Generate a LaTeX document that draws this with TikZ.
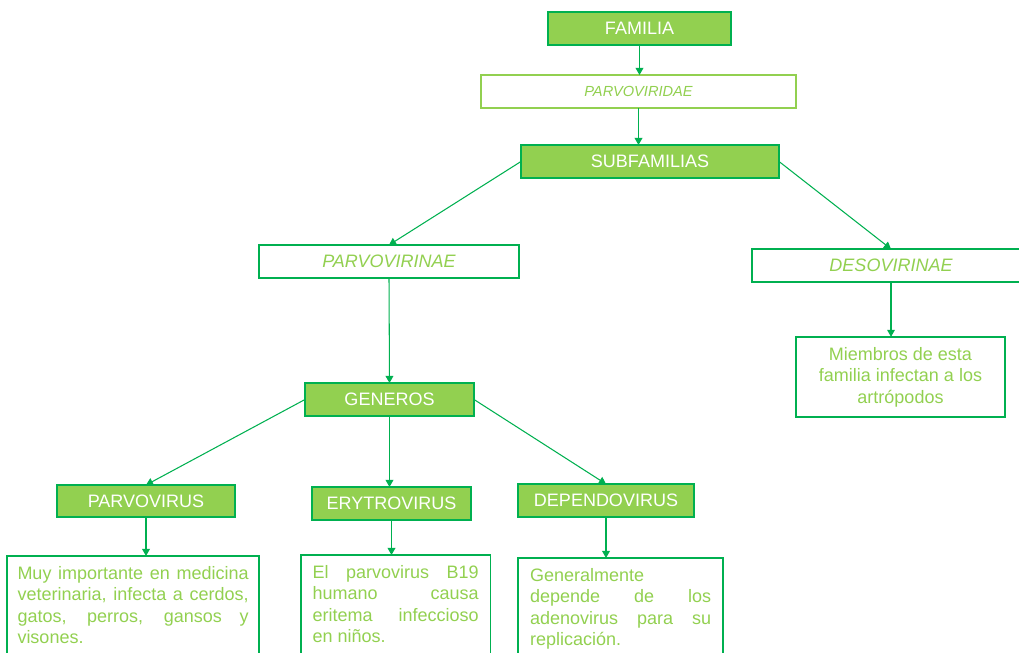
\documentclass[tikz,border=0pt]{standalone}
\usepackage{fontspec}
\setmainfont{Liberation Sans}
\usepackage{tikz}
\usetikzlibrary{arrows.meta, positioning}
\definecolor{leafgreen}{RGB}{146, 208, 80}
\definecolor{okgreen}{RGB}{0, 176, 80}
\hyphenpenalty=10000
\exhyphenpenalty=10000
\tolerance=9999

\begin{document}
\begin{tikzpicture}[
        x=0.025cm, y=-0.025cm,
        font=\fontsize{12.8}{15}\selectfont,
        box/.style={draw=okgreen, line width=1pt, fill=leafgreen, text=white,
                    minimum height=0.825cm, inner sep=0pt, outer sep=0pt},
        taxon/.style={draw=okgreen, line width=1pt, fill=white, text=leafgreen,
                      font=\fontsize{12.8}{15}\selectfont\itshape,
                      minimum height=0.825cm, inner sep=0pt, outer sep=0pt},
        note/.style={draw=okgreen, line width=1pt, text=leafgreen, anchor=north west,
                     font=\fontsize{12.8}{15.2}\selectfont, inner ysep=0.26cm, outer sep=0pt},
        arrow/.style={-{Triangle[width=5.5pt, length=5pt]}, draw=okgreen, line width=0.75pt}
      ]
        \useasboundingbox (0,0) rectangle (1019,652);
        \clip (0,0) rectangle (1019,652);
        % family and subfamilies
        \node[box, minimum width=4.575cm] (familia) at (639.5,28.5) {FAMILIA};
        \node[taxon, draw=leafgreen, minimum width=7.875cm, font=\fontsize{10.4}{12}\selectfont\itshape]
              (parvoviridae) at (638.5,91.5) {PARVOVIRIDAE};
        \node[box, minimum width=6.45cm] (subfam) at (650,161.5) {SUBFAMILIAS};
        \node[taxon, minimum width=6.5cm] (parvovirinae) at (389,261.5) {PARVOVIRINAE};
        \node[taxon, minimum width=6.95cm] (desovirinae) at (891,265.5) {DESOVIRINAE};
        \node[note, anchor=center, align=center, minimum width=5.225cm, minimum height=1.9cm]
              (miembros) at (900.5,377) {Miembros de esta\\familia infectan a los\\artrópodos};
        % genera
        \node[box, minimum width=4.225cm] (generos) at (389.5,399.5) {GENEROS};
        \node[box, minimum width=4.45cm, minimum height=0.8cm] (parvovirus) at (146,501) {PARVOVIRUS};
        \node[box, minimum width=3.975cm] (erytrovirus) at (391.5,503.5) {ERYTROVIRUS};
        \node[box, minimum width=4.4cm] (dependovirus) at (606,500.5) {DEPENDOVIRUS};
        \node[note, inner xsep=0.2625cm] (muy) at (7,556)
              {\parbox[t][2.5cm][t]{5.775cm}{Muy importante en medicina\linebreak
               veterinaria, infecta a cerdos,\linebreak gatos, perros, gansos y\linebreak visones.}};
        \node[note, inner xsep=0.29cm] (b19) at (301,555)
              {\parbox[t][2.5cm][t]{4.15cm}{El parvovirus B19\linebreak humano causa\linebreak
               eritema infeccioso\linebreak en niños.}};
        \node[note, inner xsep=0.3cm] (adeno) at (518,558)
              {\parbox[t][2.5cm][t]{4.525cm}{Generalmente\linebreak depende de los\linebreak
               adenovirus para su\linebreak replicación.}};
        \draw[arrow] (familia.south) -- (familia.south |- parvoviridae.north);
        \draw[arrow] (parvoviridae.south) -- (parvoviridae.south |- subfam.north);
        \draw[arrow] (subfam.west) -- (parvovirinae.north);
        \draw[arrow] (subfam.east) -- (desovirinae.north);
        \draw[arrow] (desovirinae.south) -- (desovirinae.south |- miembros.north);
        \draw[arrow] (parvovirinae.south) -- (generos.north);
        \draw[arrow] (generos.west) -- (parvovirus.north);
        \draw[arrow] (generos.south) -- (generos.south |- erytrovirus.north);
        \draw[arrow] (generos.east) -- (dependovirus.north);
        \draw[arrow] (parvovirus.south) -- (parvovirus.south |- muy.north);
        \draw[arrow] (erytrovirus.south) -- (erytrovirus.south |- b19.north);
        \draw[arrow] (dependovirus.south) -- (dependovirus.south |- adeno.north);
      \end{tikzpicture}
\end{document}
